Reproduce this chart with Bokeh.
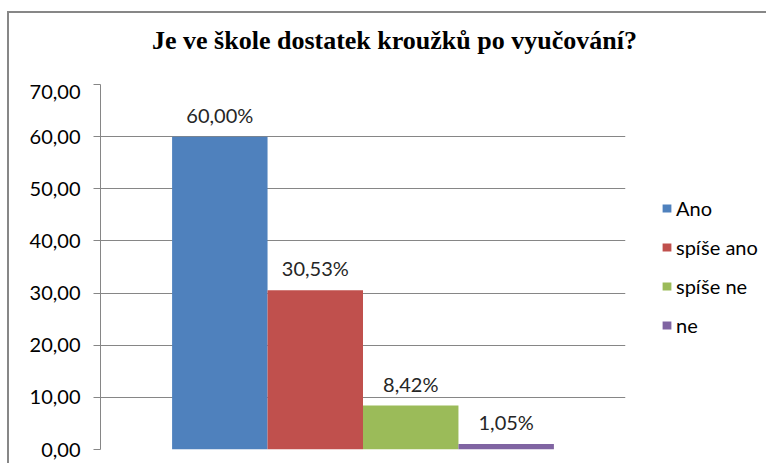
from bokeh.plotting import figure
from bokeh.layouts import row, column
from bokeh.models import (ColumnDataSource, FactorRange, CustomJSTickFormatter, Legend,
                          LegendItem, FixedTicker, Range1d, Div)
from bokeh.embed import file_html
from bokeh.resources import INLINE

categories = ["Ano", "spíše ano", "spíše ne", "ne"]
values = [60.00, 30.53, 8.42, 1.05]
colors = ["#4F81BD", "#C0504D", "#9BBB59", "#8064A2"]
y_ticks = [0, 10, 20, 30, 40, 50, 60, 70]
title_text = "Je ve škole dostatek kroužků po vyučování?"

labels = [f"{v:.2f}".replace(".", ",") + "%" for v in values]
src = ColumnDataSource(dict(cat=categories, val=values, col=colors, lab=labels))

GRAY = "#868686"
FONT = "Lato"

title_div = Div(
    text=('<div style="font-family:\'Liberation Serif\';font-weight:bold;font-size:26px;'
          'line-height:26px;color:#000;white-space:nowrap;padding:15px 0 0 143px;margin:0;">'
          + title_text + '</div>'),
    width=757, height=71, margin=0)

p = figure(frame_width=525, frame_height=365, output_backend="svg", toolbar_location=None,
           x_range=FactorRange(factors=categories, range_padding=0.375),
           y_range=(0, 70),
           min_border_left=91, min_border_right=20, min_border_top=0, min_border_bottom=14)
p.title = None

p.vbar(x="cat", top="val", width=1.0, source=src, fill_color="col", line_color=None)
p.text(x="cat", y="val", text="lab", source=src, text_align="center", text_baseline="bottom",
       y_offset=-10, text_font={"value": FONT}, text_font_size="20px", text_color="#262626")

p.outline_line_color = None
p.xaxis.visible = False
p.xgrid.visible = False
p.ygrid.grid_line_color = GRAY
p.ygrid.grid_line_width = 1
p.yaxis.ticker = FixedTicker(ticks=y_ticks)
p.yaxis.formatter = CustomJSTickFormatter(code="return tick.toFixed(2).replace('.', ',');")
p.yaxis.axis_line_color = GRAY
p.yaxis.major_tick_line_color = GRAY
p.yaxis.major_tick_out = 7
p.yaxis.major_tick_in = 0
p.yaxis.minor_tick_line_color = None
p.yaxis.major_label_text_font = FONT
p.yaxis.major_label_text_font_size = "20px"
p.yaxis.major_label_text_color = "#000000"
p.yaxis.major_label_standoff = 13

# legend panel: a second figure whose (zero-width) bars lie outside its visible range
pl = figure(width=121, height=379, output_backend="svg", toolbar_location=None,
            x_range=FactorRange(factors=categories), y_range=Range1d(-2, -1),
            min_border_left=0, min_border_right=0, min_border_top=0, min_border_bottom=14)
pl.title = None
rl = pl.vbar(x="cat", top="val", width=0.0, source=src, fill_color="col", line_color=None)
pl.axis.visible = False
pl.grid.visible = False
pl.outline_line_color = None

items = [LegendItem(label=c, renderers=[rl], index=i) for i, c in enumerate(categories)]
leg = Legend(items=items, location=(16, 112))
leg.border_line_color = None
leg.background_fill_alpha = 0
leg.glyph_width = 11
leg.glyph_height = 10
leg.label_text_font = FONT
leg.label_text_font_size = "20px"
leg.label_text_color = "#000000"
leg.label_standoff = 4
leg.spacing = 15
leg.padding = 0
leg.margin = 0
pl.add_layout(leg, "center")

lay = column(title_div, row(p, pl, spacing=0), spacing=0)
lay.styles = {"margin-left": "7px", "margin-top": "11px",
              "border-left": "2px solid #878787", "border-top": "2px solid #878787"}

open("out.html", "w").write(file_html(lay, INLINE))
